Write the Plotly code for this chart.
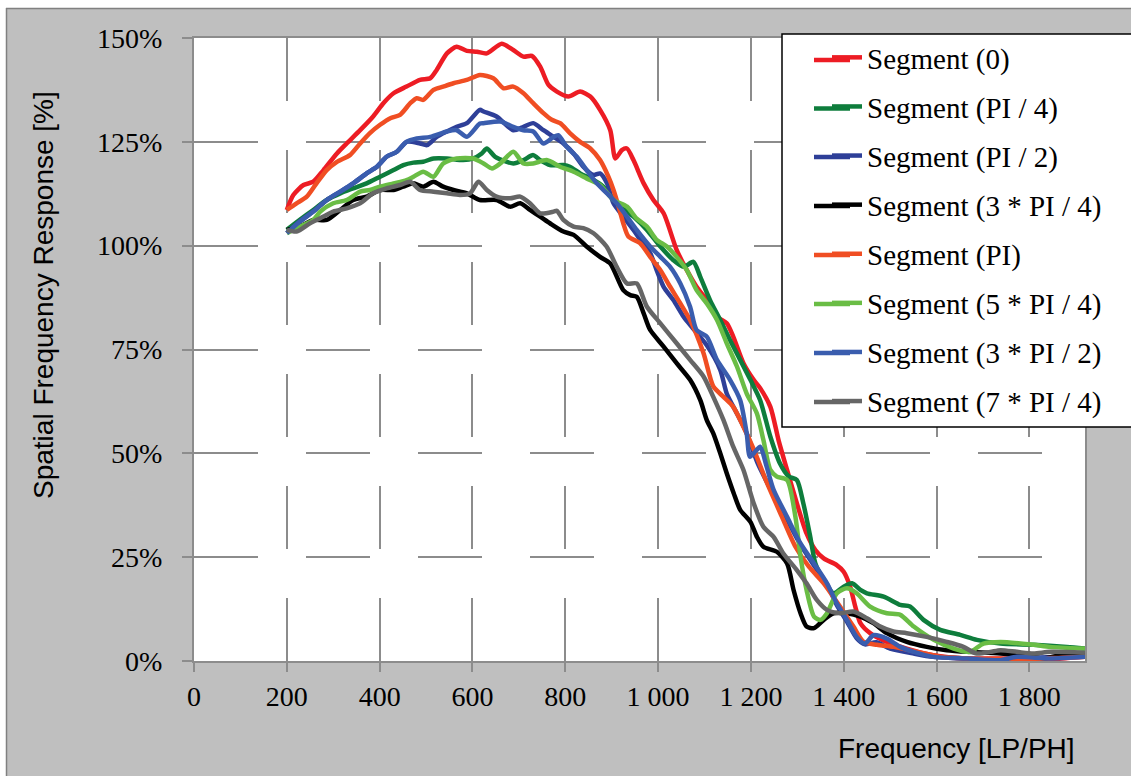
import plotly.graph_objects as go

# ---------------- data ----------------
seg0_x = [200,214,236,257,279,308,329,358,386,408,430,458,487,509,523,545,566,588,610,631,663,688,710,728,746,764,782,807,832,854,875,897,908,922,933,947,969,990,1012,1040,1062,1083,1105,1127,1148,1162,1184,1206,1220,1242,1260,1278,1299,1320,1339,1357,1385,1400,1414,1425,1436,1457,1493,1536,1593,1666,1737,1809,1870,1920]
seg0_y = [108.6,112.2,114.6,115.4,118.2,122.2,124.6,127.8,131.1,134.3,136.7,138.3,139.9,140.3,142.3,146.3,147.9,146.9,146.7,146.3,148.6,147.1,145.5,145.7,143.1,138.7,137.1,135.9,137.1,135.9,132.7,127.8,121.0,123.0,123.4,120.6,115.0,111.0,107.8,99.0,94.1,90.1,86.9,82.9,81.3,78.1,71.7,67.7,65.7,61.2,53.0,46.0,38.0,30.7,26.7,24.7,23.1,21.5,17.9,13.1,9.1,6.7,4.6,3.0,1.4,0.6,0.6,0.4,0.6,1.0]

seg_pi4_x = [200,228,257,286,315,343,372,401,430,451,473,494,516,545,580,602,620,631,649,688,710,731,746,767,796,810,832,861,882,911,947,976,1005,1033,1055,1076,1091,1112,1134,1155,1177,1199,1220,1242,1263,1282,1299,1313,1328,1339,1357,1378,1400,1418,1436,1450,1486,1522,1543,1572,1608,1651,1687,1738,1809,1881,1920]
seg_pi4_y = [103.8,106.2,108.6,111.0,112.6,113.8,115.0,116.6,118.2,119.4,120.0,120.2,121.0,121.0,120.6,121.0,122.2,123.4,121.4,119.8,120.6,121.8,120.6,119.4,119.4,119.0,117.4,115.8,114.2,110.2,107.0,103.8,99.8,96.5,94.9,96.1,92.5,86.9,82.1,77.3,72.5,67.7,62.8,54.0,47.5,44.4,43.6,38.0,29.9,23.5,19.5,16.3,17.9,18.7,17.1,16.3,15.5,13.5,13.1,9.9,7.5,6.3,5.1,4.2,3.9,3.4,3.0]

seg_pi2_x = [200,228,257,286,315,343,372,394,415,437,458,487,502,523,545,566,588,616,624,652,688,710,731,753,775,796,818,839,861,875,890,904,925,947,961,983,997,1012,1033,1055,1076,1105,1134,1148,1170,1191,1215,1249,1278,1307,1336,1364,1385,1407,1428,1446,1470,1500,1551,1593,1666,1738,1810,1870,1920]
seg_pi2_y = [103.0,105.8,108.2,111.0,113.0,115.0,117.4,119.0,121.4,122.6,125.0,124.6,124.2,126.2,127.5,128.6,129.5,132.7,132.3,131.1,127.8,128.6,129.5,127.8,126.2,124.6,122.2,119.0,117.0,117.4,115.0,110.2,107.0,103.8,101.5,98.2,94.1,90.1,86.9,82.9,80.0,76.0,70.1,64.4,59.6,54.8,47.5,40.0,34.0,28.0,23.0,18.5,13.5,9.5,5.5,4.0,4.5,3.0,1.8,1.0,0.6,0.4,0.8,1.0,1.2]

seg_3pi4_x = [200,228,257,286,315,343,372,401,430,451,473,494,516,537,559,588,616,652,681,703,724,746,767,796,818,846,875,897,925,940,954,969,983,1012,1040,1069,1091,1105,1119,1134,1148,1163,1177,1199,1213,1227,1256,1278,1292,1307,1320,1336,1357,1378,1407,1436,1464,1493,1536,1579,1622,1666,1738,1809,1831,1867,1920]
seg_3pi4_y = [103.8,104.6,106.2,106.2,108.6,111.0,111.8,113.4,113.4,114.2,115.0,114.2,115.4,114.2,113.4,112.6,111.0,111.0,109.4,110.2,108.6,107.0,105.4,103.4,102.6,99.8,97.3,95.7,89.3,88.1,87.7,83.7,79.7,75.7,71.7,67.7,62.8,58.0,54.8,50.0,45.2,40.4,36.4,33.5,29.9,27.5,26.3,23.5,17.1,11.5,8.3,7.9,9.9,11.5,11.5,10.7,9.1,6.7,4.6,3.4,2.6,2.2,1.8,1.0,0.6,1.4,1.8]

seg_pi_x = [200,221,243,264,286,308,336,358,379,401,423,444,466,480,494,516,537,559,588,616,645,667,688,710,731,753,771,789,810,832,854,875,893,904,915,925,936,961,983,1005,1026,1048,1069,1098,1119,1141,1162,1184,1206,1235,1267,1296,1325,1357,1392,1421,1443,1472,1508,1558,1608,1666,1740,1810,1870,1920]
seg_pi_y = [108.6,110.2,111.8,115.0,118.2,120.2,121.8,124.6,127.1,129.1,130.7,131.5,134.3,135.5,135.1,137.5,138.3,139.1,139.9,141.1,140.3,137.9,138.3,136.7,134.3,131.9,130.3,129.5,127.1,125.0,123.4,120.6,116.6,113.4,109.4,105.4,102.2,100.6,97.3,94.1,90.1,86.1,82.1,74.1,66.1,63.6,61.2,56.4,51.0,42.8,34.7,27.5,22.7,18.7,13.1,8.3,4.6,3.9,3.4,2.2,1.0,0.6,0.5,0.5,0.8,1.0]

seg_5pi4_x = [200,228,257,272,300,329,358,379,401,430,458,473,494,516,537,566,602,624,642,660,688,710,731,760,789,818,846,875,904,933,954,976,997,1019,1040,1062,1083,1105,1127,1148,1170,1191,1213,1227,1242,1256,1278,1296,1307,1320,1336,1350,1364,1385,1407,1428,1457,1493,1522,1551,1594,1637,1672,1701,1738,1809,1845,1920]
seg_5pi4_y = [103.0,104.6,106.2,108.2,110.2,111.0,113.0,113.4,114.2,115.0,115.8,116.6,117.8,116.6,119.8,121.0,121.0,119.8,118.6,119.8,122.6,119.8,119.8,120.6,119.0,117.8,116.2,114.6,111.0,109.4,106.5,104.6,101.4,99.8,97.3,94.1,89.3,86.1,82.1,76.5,70.9,64.4,59.6,53.2,46.0,44.4,43.6,34.7,25.1,17.1,10.7,9.9,11.5,16.3,17.5,16.3,13.1,11.5,11.1,8.3,5.1,3.0,2.2,4.2,4.6,3.9,3.4,3.0]

seg_3pi2_x = [200,228,257,286,315,343,372,394,415,437,458,480,509,545,566,588,616,624,660,688,710,731,753,775,785,803,825,846,868,890,911,933,954,983,1005,1026,1048,1069,1083,1105,1127,1155,1177,1191,1198,1210,1220,1234,1249,1278,1307,1336,1364,1385,1407,1428,1446,1464,1493,1522,1551,1593,1666,1738,1773,1845,1920]
seg_3pi2_y = [103.0,105.8,108.2,111.0,113.0,115.0,117.4,119.0,121.4,122.6,125.0,125.8,126.2,127.5,127.8,126.2,129.4,129.5,129.9,128.6,127.8,127.5,124.6,126.2,126.6,123.8,121.4,118.2,115.0,112.6,110.2,107.0,103.8,99.8,97.3,94.9,90.9,85.3,79.7,78.1,72.5,67.7,62.8,54.8,49.2,50.5,51.6,46.8,41.2,34.7,28.3,23.5,18.7,13.9,9.9,5.8,4.2,6.2,5.4,3.4,2.2,1.0,0.6,0.2,1.0,0.6,1.0]

seg_7pi4_x = [200,221,250,279,300,329,358,386,415,444,466,487,516,545,573,595,613,631,652,681,703,724,746,775,782,796,818,839,861,889,911,933,954,976,1005,1040,1069,1098,1119,1141,1162,1184,1206,1227,1249,1270,1299,1320,1342,1364,1392,1421,1450,1479,1507,1536,1579,1622,1658,1687,1716,1738,1773,1809,1845,1920]
seg_7pi4_y = [103.8,103.4,105.4,107.0,108.2,109.0,110.2,112.6,113.8,114.6,115.4,113.4,113.0,112.6,112.2,112.6,115.4,113.4,111.8,111.4,111.8,110.2,107.8,108.2,108.4,106.2,104.6,104.2,103.0,99.8,94.9,90.9,90.9,85.3,81.3,76.5,72.5,68.5,63.6,58.0,51.6,46.0,38.0,32.3,29.9,25.9,21.9,18.7,14.7,12.3,11.5,11.9,10.3,8.3,7.1,6.7,5.8,4.6,3.4,1.8,2.2,2.6,2.2,1.8,2.2,2.0]

series_names = ["Segment (0)", "Segment (PI / 4)", "Segment (PI / 2)", "Segment (3 * PI / 4)",
                "Segment (PI)", "Segment (5 * PI / 4)", "Segment (3 * PI / 2)", "Segment (7 * PI / 4)"]
series_x = [seg0_x, seg_pi4_x, seg_pi2_x, seg_3pi4_x, seg_pi_x, seg_5pi4_x, seg_3pi2_x, seg_7pi4_x]
series_y = [seg0_y, seg_pi4_y, seg_pi2_y, seg_3pi4_y, seg_pi_y, seg_5pi4_y, seg_3pi2_y, seg_7pi4_y]
series_colors = ["#ED1C24", "#0E7D3C", "#2E3F98", "#000000", "#F04E23", "#6ABD45", "#3A5DAE", "#666666"]

x_ticks = [0, 200, 400, 600, 800, 1000, 1200, 1400, 1600, 1800]
x_tick_labels = ["0", "200", "400", "600", "800", "1 000", "1 200", "1 400", "1 600", "1 800"]
y_ticks = [0, 25, 50, 75, 100, 125, 150]
y_tick_labels = ["0%", "25%", "50%", "75%", "100%", "125%", "150%"]

# ---------------- layout geometry (pixels) ----------------
W, H = 1131, 776
ML, MR, MT, MB = 194, 46, 38, 115
PW, PH = W - ML - MR, H - MT - MB

def xp(px):
    return (px - ML) / PW

def yp(py):
    return (H - MB - py) / PH

LW = 4.5

fig = go.Figure()
for i, (name, xs, ys, col) in enumerate(zip(series_names, series_x, series_y, series_colors)):
    fig.add_trace(go.Scatter(
        x=xs, y=ys, name=name, mode="lines",
        line=dict(color=col, width=LW, shape="spline", smoothing=0.7),
        legendgroup=f"g{i}",
    ))

grid_col = "#8C8C8C"
serif = "Liberation Serif"
sans = "Liberation Sans"

shapes = [
    # white strips outside the chart frame
    dict(type="rect", xref="paper", yref="paper", x0=xp(-20), x1=xp(6), y0=yp(800), y1=yp(-20),
         fillcolor="white", line=dict(width=0), layer="below"),
    dict(type="rect", xref="paper", yref="paper", x0=xp(-20), x1=xp(1200), y0=yp(8), y1=yp(-20),
         fillcolor="white", line=dict(width=0), layer="below"),
    dict(type="line", xref="paper", yref="paper", x0=xp(6.5), x1=xp(6.5), y0=yp(8), y1=yp(800),
         line=dict(color="#808080", width=1.5), layer="below"),
    dict(type="line", xref="paper", yref="paper", x0=xp(6), x1=xp(1200), y0=yp(8.5), y1=yp(8.5),
         line=dict(color="#808080", width=1.5), layer="below"),
    # legend box
    dict(type="rect", xref="paper", yref="paper", x0=xp(782), x1=xp(1150), y0=yp(427), y1=yp(34),
         fillcolor="white", line=dict(color="black", width=1.5), layer="above"),
]

# longer legend keys (left part of each key line; the legend draws the rest)
legend_row_y = [60, 108.5, 157, 206, 255, 304, 353, 402]
for ry, col in zip(legend_row_y, series_colors):
    shapes.append(dict(type="line", xref="paper", yref="paper", x0=xp(814), x1=xp(850),
                       y0=yp(ry), y1=yp(ry), line=dict(color=col, width=LW), layer="above"))

annotations = [
    dict(text="Spatial Frequency Response [%]", xref="paper", yref="paper",
         x=xp(43), y=yp(295), textangle=-90, showarrow=False,
         font=dict(family=sans, size=28, color="black"), xanchor="center", yanchor="middle"),
    dict(text="Frequency [LP/PH]", xref="paper", yref="paper",
         x=xp(956), y=yp(748), showarrow=False,
         font=dict(family=sans, size=28, color="black"), xanchor="center", yanchor="middle"),
]

fig.update_layout(
    width=W, height=H,
    margin=dict(l=ML, r=MR, t=MT, b=MB, pad=0),
    paper_bgcolor="#BFBFBF",
    plot_bgcolor="white",
    showlegend=True,
    legend=dict(
        x=xp(827), y=yp(32), xanchor="left", yanchor="top",
        bgcolor="rgba(0,0,0,0)", borderwidth=0,
        font=dict(family=serif, size=29, color="black"),
        traceorder="grouped", tracegroupgap=8.4,
        maxheight=760,
    ),
    shapes=shapes,
    annotations=annotations,
    xaxis=dict(
        range=[0, 1920], tickvals=x_ticks, ticktext=x_tick_labels,
        showgrid=True, gridcolor=grid_col, gridwidth=2, griddash="63px,49px",
        showline=True, linecolor=grid_col, linewidth=2, mirror=True,
        ticks="outside", ticklen=9, tickwidth=2, tickcolor=grid_col,
        tickfont=dict(family=serif, size=28, color="black"),
        zeroline=False,
    ),
    yaxis=dict(
        range=[0, 150], tickvals=y_ticks, ticktext=y_tick_labels,
        showgrid=True, gridcolor=grid_col, gridwidth=2, griddash="64px,48px",
        showline=True, linecolor=grid_col, linewidth=2, mirror=True,
        ticks="outside", ticklen=10, tickwidth=2, tickcolor=grid_col,
        tickfont=dict(family=serif, size=28, color="black"),
        ticklabelstandoff=14,
        zeroline=False,
    ),
)

fig.write_html("out.html")
